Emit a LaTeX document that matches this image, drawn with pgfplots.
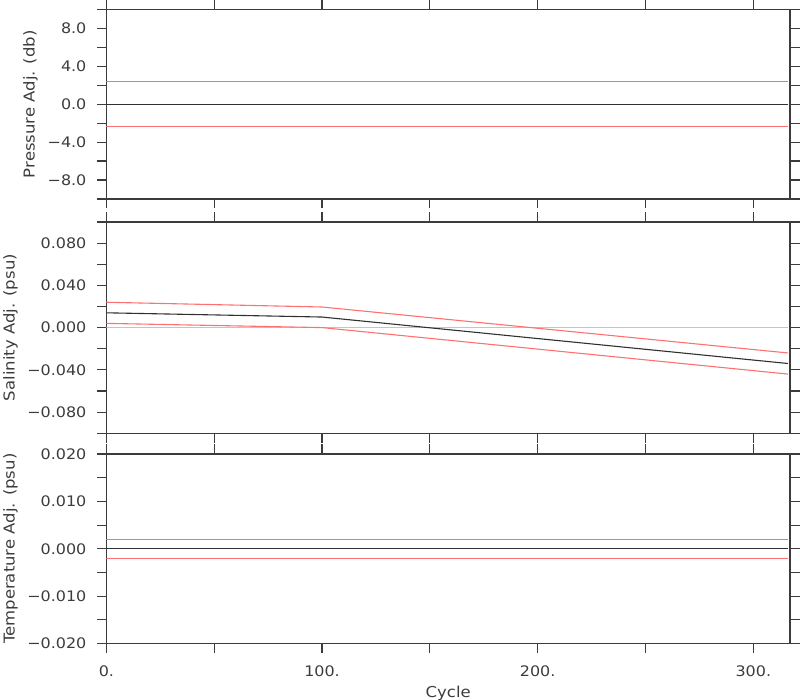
\documentclass[border=0pt]{standalone}
\usepackage{fontspec}
\setmainfont{DejaVu Sans}[FakeStretch=1.1]
\usepackage{pgfplots}
\pgfplotsset{compat=1.18}
\definecolor{fr}{HTML}{3C3C3C}
\definecolor{rl}{HTML}{FF7070}
\definecolor{gl}{HTML}{C4C4C4}
\definecolor{bl}{HTML}{303030}
\pgfplotsset{
  panel/.style={
    scale only axis, width=683.6bp,
    xmin=0, xmax=317,
    scaled y ticks=false, scaled x ticks=false,
    axis line style={fr, line width=1.3bp},
    tick style={fr, line width=1.1bp},
    tick align=outside, major tick length=9.5bp, minor tick num=0,
    xtick pos=both, ytick pos=both,
    xticklabel pos=lower, yticklabel pos=left,
    xtick={0,50,100,150,200,250,300},
    ticklabel style={font=\fontsize{14.5bp}{16bp}\selectfont, text=fr},
    yticklabel style={anchor=east, xshift=-7bp},
    xticklabel style={anchor=north, yshift=-9.5bp},
    every axis y label/.style={at={(axis description cs:-0.1112,0.5)}, rotate=90, anchor=center,
      font=\fontsize{15bp}{17bp}\selectfont, text=fr},
    every axis x label/.style={at={(axis description cs:0.5,0)}, anchor=base, yshift=-53.5bp,
      font=\fontsize{15bp}{17bp}\selectfont, text=fr},
    anchor=south west,
  },
  dl/.style={bl, line width=1.1bp},
  rlst/.style={rl, line width=1.1bp},
}
\begin{document}
\begin{tikzpicture}
\useasboundingbox (0,0) rectangle (800bp,700bp);
% Panel 1: Pressure
\begin{axis}[panel, at={(106.4bp,501bp)}, height=189.8bp,
  ymin=-10, ymax=10,
  ytick={-10,-8,-6,-4,-2,0,2,4,6,8,10},
  yticklabels={{},−8.0,{},−4.0,{},0.0,{},4.0,{},8.0,{}},
  xticklabels={},
  ylabel={Pressure Adj. (db)}]
\addplot[rlst] coordinates {(0,2.4) (316,2.4)};
\addplot[rlst] coordinates {(0,-2.4) (316,-2.4)};
\addplot[dl] coordinates {(0,0) (316,0)};
\end{axis}
% Panel 2: Salinity
\begin{axis}[panel, at={(106.4bp,266.8bp)}, height=211.2bp,
  ymin=-0.1, ymax=0.1,
  ytick={-0.1,-0.08,-0.06,-0.04,-0.02,0,0.02,0.04,0.06,0.08,0.1},
  yticklabels={{},−0.080,{},−0.040,{},0.000,{},0.040,{},0.080,{}},
  xticklabels={},
  ylabel={Salinity Adj. (psu)},
  ylabel style={at={(axis description cs:-0.1404,0.5)}}]
\addplot[gl, line width=1.2bp] coordinates {(0,0) (316,0)};
\addplot[rlst] coordinates {(0,0.024) (100,0.0195) (316,-0.024)};
\addplot[rlst] coordinates {(0,0.004) (100,0.0) (316,-0.044)};
\addplot[dl] coordinates {(0,0.014) (100,0.010) (316,-0.034)};
\end{axis}
% Panel 3: Temperature
\begin{axis}[panel, at={(106.4bp,56.5bp)}, height=189.5bp,
  ymin=-0.02, ymax=0.02,
  ytick={-0.02,-0.015,-0.01,-0.005,0,0.005,0.01,0.015,0.02},
  yticklabels={−0.020,{},−0.010,{},0.000,{},0.010,{},0.020},
  xticklabels={0.,{},100.,{},200.,{},300.},
  ylabel={Temperature Adj. (psu)},
  ylabel style={at={(axis description cs:-0.1404,0.5)}},
  xlabel={Cycle}]
\addplot[rlst] coordinates {(0,0.002) (316,0.002)};
\addplot[rlst] coordinates {(0,-0.002) (316,-0.002)};
\addplot[dl] coordinates {(0,0) (316,0)};
\end{axis}
\end{tikzpicture}
\end{document}
